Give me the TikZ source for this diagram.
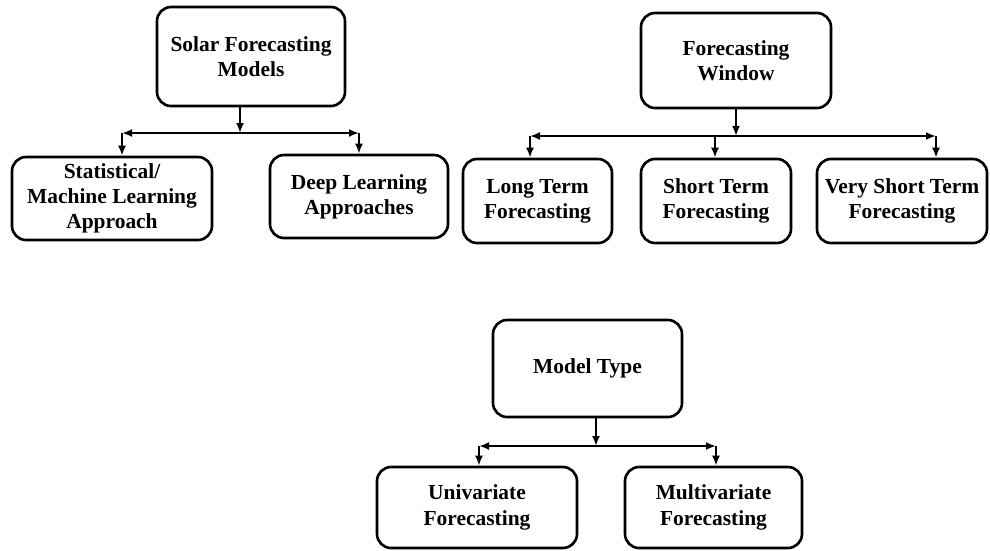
\documentclass[tikz,border=0pt]{standalone}
\usepackage{fontspec}
\setmainfont{Liberation Serif}
\usetikzlibrary{arrows.meta}
\definecolor{ink}{RGB}{0,0,0}
\tikzset{
  catbox/.style={draw=ink,line width=1.5pt,rounded corners=8pt,align=center,
    inner sep=0pt,font=\bfseries\fontsize{12.2}{14.4}\selectfont,text=ink},
  link/.style={draw=ink,line width=1.3pt,-{Latex[length=2mm,width=1.6mm]}},
  bar/.style={draw=ink,line width=1.3pt,{Latex[length=2mm,width=1.6mm]}-{Latex[length=2mm,width=1.6mm]}}
}

\begin{document}
\begin{tikzpicture}[x=0.2mm,y=-0.2mm]
  \useasboundingbox (0,0) rectangle (990,550);
  % solar forecasting models
  \node[catbox,minimum width=188*0.2mm,minimum height=99*0.2mm] (models) at (251,56.5)
    {Solar Forecasting\\Models};
  \node[catbox,minimum width=200*0.2mm,minimum height=83*0.2mm] (stat) at (112,198.5)
    {Statistical/\\Machine Learning\\Approach};
  \node[catbox,minimum width=178*0.2mm,minimum height=83*0.2mm] (deep) at (359,196.5)
    {Deep Learning\\Approaches};
  \coordinate (m0) at (240,133);
  \coordinate (mL) at (122,133);
  \coordinate (mR) at (359,133);
  \draw[link] (models.south -| m0) -- (m0);
  \draw[bar] (mL) -- (mR);
  \draw[link] (mL) -- (stat.north -| mL);
  \draw[link] (mR) -- (deep.north -| mR);

  % forecasting window
  \node[catbox,minimum width=190*0.2mm,minimum height=95*0.2mm] (window) at (736,60.5)
    {Forecasting\\Window};
  \node[catbox,minimum width=149*0.2mm,minimum height=84*0.2mm] (long) at (537.5,201)
    {Long Term\\Forecasting};
  \node[catbox,minimum width=150*0.2mm,minimum height=84*0.2mm] (short) at (716,201)
    {Short Term\\Forecasting};
  \node[catbox,minimum width=170*0.2mm,minimum height=84*0.2mm] (vshort) at (902,201)
    {Very Short Term\\Forecasting};
  \coordinate (w0) at (736,136);
  \coordinate (wL) at (530,136);
  \coordinate (wM) at (715,136);
  \coordinate (wR) at (936,136);
  \draw[link] (window.south -| w0) -- (w0);
  \draw[bar] (wL) -- (wR);
  \foreach \c/\t in {wL/long,wM/short,wR/vshort}
    \draw[link] (\c) -- (\t.north -| \c);

  % model type
  \node[catbox,minimum width=189*0.2mm,minimum height=97*0.2mm] (mtype) at (587.5,368.5)
    {Model Type};
  \node[catbox,minimum width=200*0.2mm,minimum height=81*0.2mm] (uni) at (477,507.5)
    {Univariate\\Forecasting};
  \node[catbox,minimum width=177*0.2mm,minimum height=81*0.2mm] (multi) at (713.5,507.5)
    {Multivariate\\Forecasting};
  \coordinate (t0) at (596,446);
  \coordinate (tL) at (479,446);
  \coordinate (tR) at (716,446);
  \draw[link] (mtype.south -| t0) -- (t0);
  \draw[bar] (tL) -- (tR);
  \draw[link] (tL) -- (uni.north -| tL);
  \draw[link] (tR) -- (multi.north -| tR);
\end{tikzpicture}
\end{document}
